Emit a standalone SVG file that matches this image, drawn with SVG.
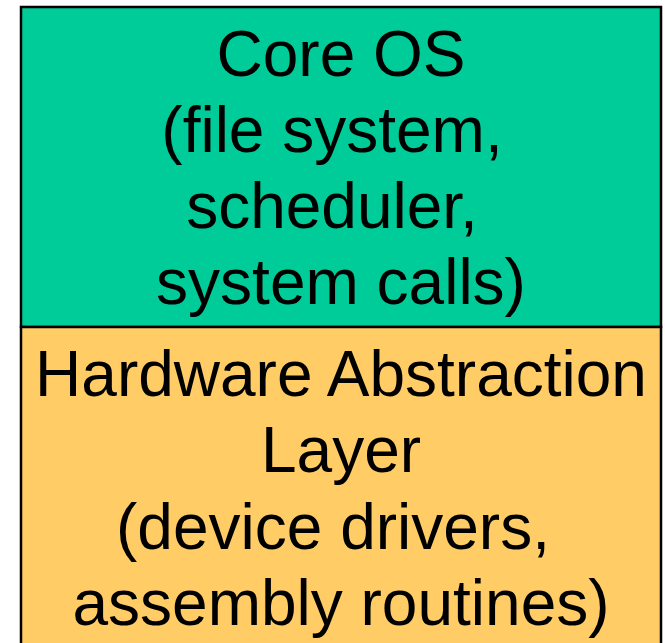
<svg xmlns="http://www.w3.org/2000/svg" width="665" height="643" viewBox="0 0 665 643">
  <style>
    .box { stroke: #000; stroke-width: 2.5; }
    .lbl { font-family: "Liberation Sans", Arial, sans-serif; font-size: 64px; fill: #000; text-anchor: middle; }
  </style>
  <rect x="0" y="0" width="665" height="643" fill="#fff"/>
  <g id="core-os">
    <rect class="box" x="21" y="7" width="640" height="320" fill="#00CC99"/>
    <text class="lbl" x="341" y="76">Core OS</text>
    <text class="lbl" x="332" y="152">(file system,</text>
    <text class="lbl" x="332" y="228">scheduler,</text>
    <text class="lbl" x="341" y="304">system calls)</text>
  </g>
  <g id="hal">
    <rect class="box" x="21" y="327" width="640" height="360" fill="#FFCC66"/>
    <text class="lbl" x="341" y="396">Hardware Abstraction</text>
    <text class="lbl" x="341" y="472">Layer</text>
    <text class="lbl" x="333" y="549">(device drivers,</text>
    <text class="lbl" x="341" y="625">assembly routines)</text>
  </g>
  <g id="connectors"/>
</svg>
